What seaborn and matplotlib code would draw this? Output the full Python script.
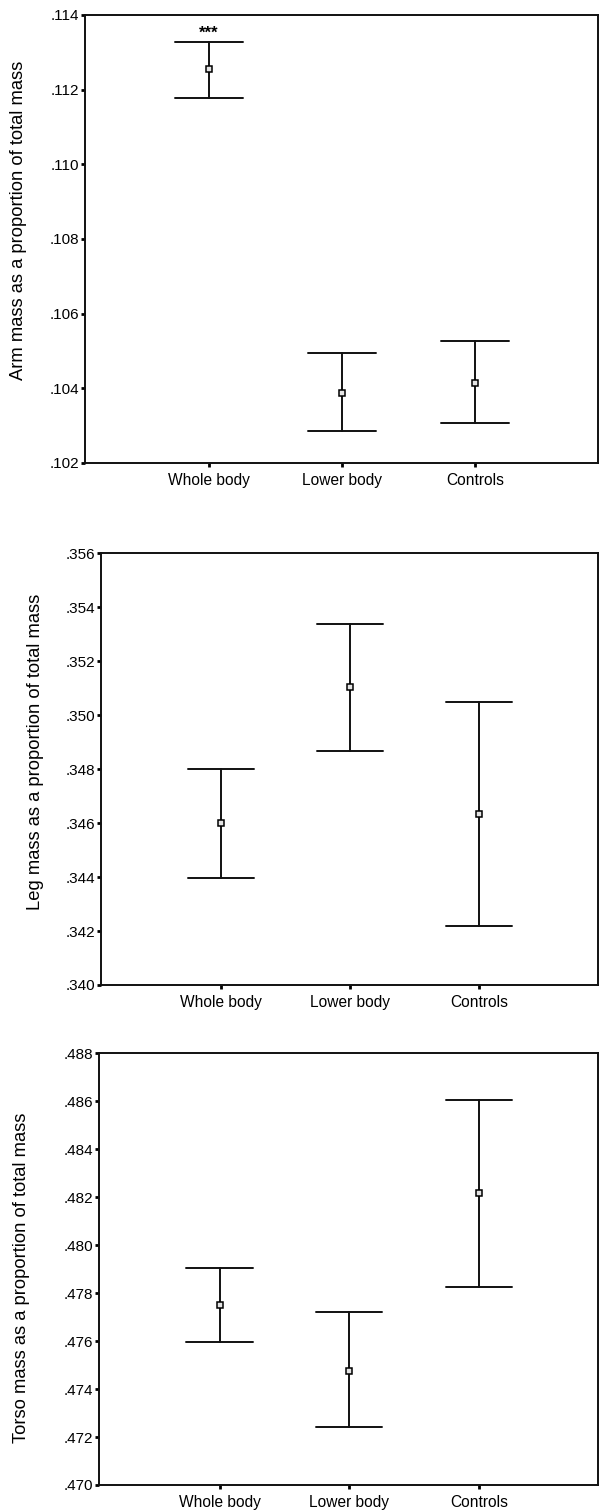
import numpy as np
import pandas as pd
import matplotlib
matplotlib.use("Agg")
import matplotlib.pyplot as plt
from matplotlib.ticker import MultipleLocator, FuncFormatter
import seaborn as sns

# Groups compared in every panel
groups = ["Whole body", "Lower body", "Controls"]

# Arm mass as a proportion of total mass: mean and interval bounds
arm_mean = [0.11255, 0.10388, 0.10414]
arm_low = [0.11178, 0.10286, 0.10307]
arm_high = [0.11329, 0.10494, 0.10526]

# Leg mass as a proportion of total mass
leg_mean = [0.34600, 0.35103, 0.34632]
leg_low = [0.34398, 0.34867, 0.34219]
leg_high = [0.34802, 0.35337, 0.35049]

# Torso mass as a proportion of total mass
torso_mean = [0.47751, 0.47477, 0.48216]
torso_low = [0.47595, 0.47241, 0.47824]
torso_high = [0.47904, 0.47720, 0.48605]

# Axis ranges and labels
arm_range = (0.102, 0.114)
leg_range = (0.340, 0.356)
torso_range = (0.470, 0.488)
ylabels = ["Arm mass as a proportion of total mass",
           "Leg mass as a proportion of total mass",
           "Torso mass as a proportion of total mass"]
star_label = "***"
star_value = 0.11340

sns.set_style("white")
plt.rcParams["font.family"] = ["Liberation Sans", "DejaVu Sans"]
plt.rcParams["text.color"] = "black"
plt.rcParams["axes.labelcolor"] = "black"


def long_table(low, mean, high):
    rows = []
    for g, lo, m, hi in zip(groups, low, mean, high):
        for v in (lo, m, hi):
            rows.append({"group": g, "value": v})
    return pd.DataFrame(rows)


panels = [
    (arm_low, arm_mean, arm_high, arm_range, ylabels[0]),
    (leg_low, leg_mean, leg_high, leg_range, ylabels[1]),
    (torso_low, torso_mean, torso_high, torso_range, ylabels[2]),
]

# axes rectangles in figure fractions and y-label placement
rects = [
    [85 / 600, 1 - 463 / 1512, 513 / 600, 448 / 1512],
    [101 / 600, 1 - 985 / 1512, 497 / 600, 431.7 / 1512],
    [99 / 600, 1 - 1485 / 1512, 499 / 600, 431.7 / 1512],
]
label_xy = [(-0.113, 0.542), (-0.115, 0.540), (-0.1375, 0.479)]

fig = plt.figure(figsize=(6.0, 15.12), dpi=100)
fig.patch.set_facecolor("white")

for i, (lo, m, hi, yr, lab) in enumerate(panels):
    ax = fig.add_axes(rects[i])
    df = long_table(lo, m, hi)
    sns.pointplot(
        data=df, x="group", y="value", order=groups,
        estimator=np.median,
        errorbar=lambda v: (v.min(), v.max()),
        capsize=0.51, linestyle="none", marker="s",
        color="black", markersize=5.0, markerfacecolor="#e4e4e4",
        markeredgecolor="black", markeredgewidth=1.1,
        err_kws={"linewidth": 1.4, "color": "#111111"},
        ax=ax,
    )
    for ln in ax.lines:
        if ln.get_marker() == "s":
            ln.set_zorder(5)
    ax.set_xlim(-0.93, 2.92)
    ax.set_ylim(*yr)
    ax.yaxis.set_major_locator(MultipleLocator(0.002))
    ax.yaxis.set_major_formatter(
        FuncFormatter(lambda v, p: f"{v:.3f}".lstrip("0")))
    ax.set_xlabel("")
    ax.set_ylabel(lab, fontsize=13.2, color="black")
    ax.yaxis.set_label_coords(*label_xy[i])
    for s in ax.spines.values():
        s.set_visible(True)
        s.set_linewidth(1.4)
        s.set_color("#111111")
    ax.tick_params(axis="both", which="major", direction="out",
                   length=3, width=2, color="black", labelcolor="black",
                   bottom=True, left=True, top=False, right=False)
    ax.tick_params(axis="x", labelsize=11.2, pad=4)
    ax.tick_params(axis="y", labelsize=11, pad=1)
    if i == 0:
        ax.text(0, star_value, star_label, ha="center", va="baseline",
                fontsize=12, fontweight="bold", color="black")

fig.savefig("out.png", dpi=100, facecolor="white")
